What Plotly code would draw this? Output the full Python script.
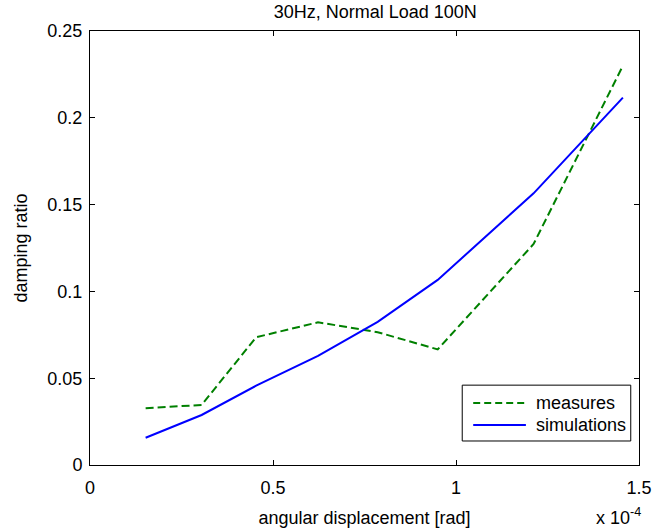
import plotly.graph_objects as go

# angular displacement in units of 1e-4 rad
disp_e4 = [0.152, 0.305, 0.454, 0.623, 0.786, 0.950, 1.212, 1.456]
damping_measures = [0.0327, 0.0346, 0.0736, 0.0822, 0.0765, 0.0666, 0.1273, 0.2300]
damping_simulations = [0.0157, 0.0288, 0.0457, 0.0628, 0.0825, 0.1066, 0.1565, 0.2116]

series_names = ["measures", "simulations"]
series_colors = ["rgb(0,128,0)", "rgb(0,0,255)"]
series_dashes = ["8px,4px", "solid"]

x_ticks = [0, 0.5, 1, 1.5]
x_tick_labels = ["0", "0.5", "1", "1.5"]
y_ticks = [0, 0.05, 0.1, 0.15, 0.2, 0.25]
y_tick_labels = ["0", "0.05", "0.1", "0.15", "0.2", "0.25"]

FONT = "Liberation Sans, Arial, sans-serif"
FS = 18

fig = go.Figure()
for name, ys, color, dash in zip(series_names,
                                 [damping_measures, damping_simulations],
                                 series_colors, series_dashes):
    fig.add_trace(go.Scatter(
        x=disp_e4, y=ys, mode="lines", name=name,
        line=dict(color=color, width=2, dash=dash),
    ))

axis_common = dict(
    showgrid=False, zeroline=False, showline=True, linecolor="black",
    linewidth=1, mirror="ticks", ticks="inside", ticklen=5,
    tickcolor="black", tickfont=dict(family=FONT, size=FS, color="black"),
    automargin=False,
)

fig.update_layout(
    width=670, height=530,
    margin=dict(l=90, r=31, t=31, b=65),
    paper_bgcolor="white", plot_bgcolor="white",
    font=dict(family=FONT, size=FS, color="black"),
    title=dict(text="30Hz, Normal Load 100N", x=0.56, xanchor="center",
               y=0.977, yanchor="middle", font=dict(family=FONT, size=FS)),
    xaxis=dict(range=[0, 1.5], tickvals=x_ticks, ticktext=x_tick_labels,
               ticklabelstandoff=6,
               title=dict(text="angular displacement [rad]", standoff=14,
                          font=dict(family=FONT, size=FS)),
               **axis_common),
    yaxis=dict(range=[0, 0.25], tickvals=y_ticks, ticktext=y_tick_labels,
               ticklabelstandoff=3,
               title=dict(text="damping ratio", standoff=15,
                          font=dict(family=FONT, size=FS)),
               **axis_common),
    showlegend=False,
)

# boxed legend in the lower right corner of the axes
fig.add_shape(type="rect", xref="paper", yref="paper",
              x0=0.678, x1=0.985, y0=0.0553, y1=0.184,
              line=dict(color="black", width=1), fillcolor="white", layer="above")
legend_rows_y = [0.1429, 0.0922]
for name, color, row_y in zip(series_names, series_colors, legend_rows_y):
    dash = "7px,4px" if name == "measures" else "solid"
    fig.add_shape(type="line", xref="paper", yref="paper",
                  x0=0.698, x1=0.794, y0=row_y, y1=row_y,
                  line=dict(color=color, width=2, dash=dash), layer="above")
    fig.add_annotation(xref="paper", yref="paper", x=0.809, y=row_y,
                       xanchor="left", yanchor="middle", showarrow=False,
                       text=name, font=dict(family=FONT, size=FS))

# axis exponent label
fig.add_annotation(
    xref="paper", yref="paper", x=1.007, y=0, yshift=-65, xanchor="right",
    yanchor="bottom", showarrow=False,
    text="x 10<sup>-4</sup>", font=dict(family=FONT, size=FS),
)

fig.write_html("out.html")
